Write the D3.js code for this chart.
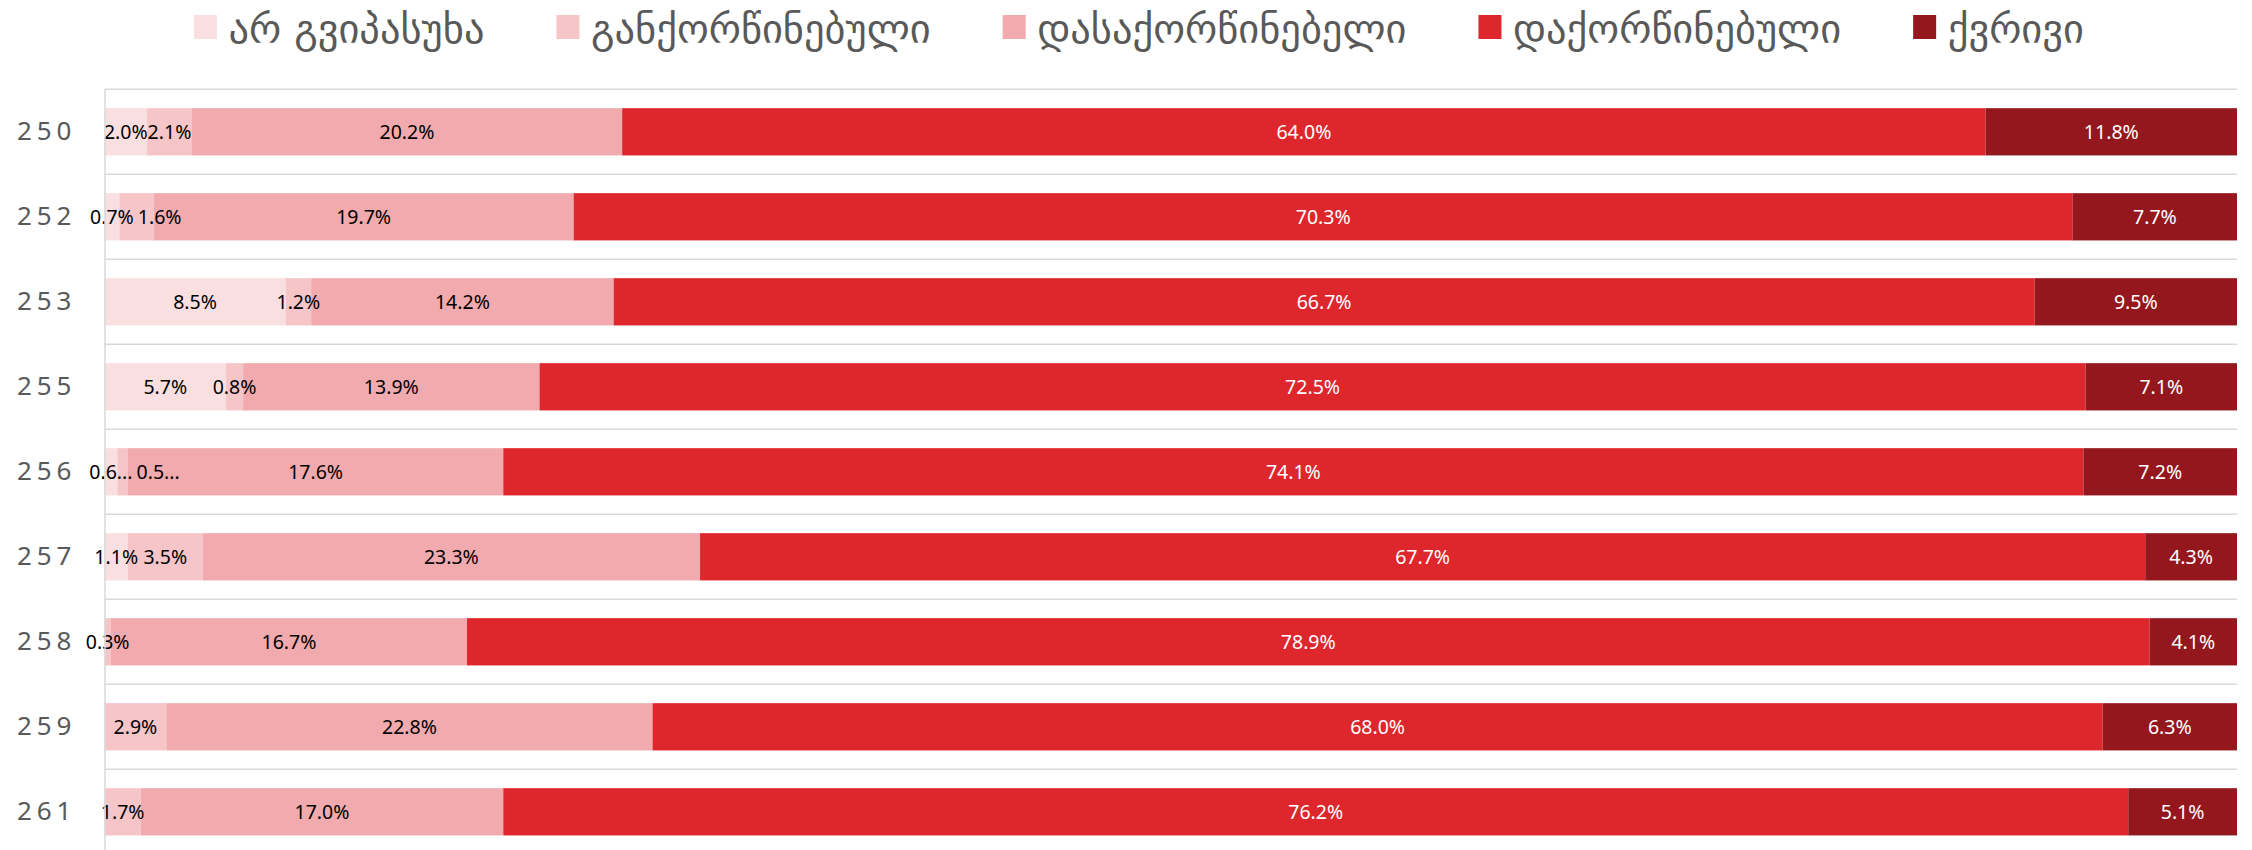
<!DOCTYPE html>
<html>
<head>
<meta charset="utf-8">
<script src="https://cdn.jsdelivr.net/npm/d3@7"></script>
<style>
  body { margin: 0; background: #fff; }
  svg { display: block; }
</style>
</head>
<body>
<div id="chart"></div>
<script>

// Categories (rows) and legend names
var categories = ["250", "252", "253", "255", "256", "257", "258", "259", "261"];
var seriesNames = ["არ გვიპასუხა", "განქორწინებული", "დასაქორწინებელი", "დაქორწინებული", "ქვრივი"];

// Percent values per series, same order as categories
var noAnswer  = [2.0, 0.7, 8.5, 5.7, 0.6, 1.1, 0, 0, 0];
var divorced  = [2.1, 1.6, 1.2, 0.8, 0.5, 3.5, 0.3, 2.9, 1.7];
var single    = [20.2, 19.7, 14.2, 13.9, 17.6, 23.3, 16.7, 22.8, 17.0];
var married   = [64.0, 70.3, 66.7, 72.5, 74.1, 67.7, 78.9, 68.0, 76.2];
var widowed   = [11.8, 7.7, 9.5, 7.1, 7.2, 4.3, 4.1, 6.3, 5.1];

// Labels that the original chart cut short
var clippedLabels = [
  {cat: "256", series: 0, text: "0.6..."},
  {cat: "256", series: 1, text: "0.5..."}
];

var seriesValues = [noAnswer, divorced, single, married, widowed];
var seriesColors = ["#fadfe1", "#f5c5c8", "#f1aaad", "#de262d", "#95171e"];

var width = 2252,
    height = 850;

var plotLeft = 104.5,
    plotRight = 2237,
    plotTop = 89.3,
    rowStep = 85;

var svg = d3.select("#chart")
            .append("svg")
              .attr("width", width)
              .attr("height", height);

// Build rows for the stack
var rows = categories.map(function(c, i) {
  return {cat: c, values: seriesValues.map(function(s) { return s[i]; })};
});

// 100% stacked, every row normalised to its total
var stack = d3.stack()
              .keys(d3.range(seriesNames.length))
              .value(function(row, k) { return row.values[k]; })
              .offset(d3.stackOffsetExpand);
var layers = stack(rows);

var x = d3.scaleLinear()
          .domain([0, 1])
          .range([plotLeft, plotRight]);

var y = d3.scaleBand()
          .domain(categories)
          .range([plotTop, plotTop + rowStep * categories.length])
          .padding(0);

var barH = y.bandwidth() * 0.556;

// Row separator lines
svg.append("g")
  .selectAll("line")
  .data(categories.concat(["end"]))
  .enter()
  .append("line")
    .attr("x1", plotLeft)
    .attr("x2", plotRight)
    .attr("y1", function(d, i) { return plotTop + i * y.step(); })
    .attr("y2", function(d, i) { return plotTop + i * y.step(); })
    .attr("stroke", "#d9d9d9")
    .attr("stroke-width", 1.5);

// Flatten layers into segments
var segments = [];
layers.forEach(function(layer) {
  layer.forEach(function(p) {
    segments.push({series: layer.key, cat: p.data.cat, value: p.data.values[layer.key], x0: p[0], x1: p[1]});
  });
});

svg.append("g")
  .selectAll("rect")
  .data(segments.filter(function(d) { return d.value > 0; }))
  .enter()
  .append("rect")
    .attr("x", function(d) { return x(d.x0); })
    .attr("y", function(d) { return y(d.cat) + (y.bandwidth() - barH) / 2; })
    .attr("width", function(d) { return x(d.x1) - x(d.x0); })
    .attr("height", barH)
    .attr("fill", function(d) { return seriesColors[d.series]; });

// Data labels
function labelText(d) {
  var c = clippedLabels.filter(function(l) { return l.cat == d.cat && l.series == d.series; });
  if (c.length) return c[0].text;
  return d.value.toFixed(1) + "%";
}

var labels = svg.append("g")
  .selectAll("text")
  .data(segments.filter(function(d) { return d.value > 0; }))
  .enter()
  .append("text")
    .attr("x", function(d) { return (x(d.x0) + x(d.x1)) / 2; })
    .attr("y", function(d) { return y(d.cat) + y.bandwidth() / 2; })
    .attr("dy", "0.36em")
    .attr("text-anchor", "middle")
    .style("font-family", "'Noto Sans', sans-serif")
    .style("font-size", "19.5px")
    .style("fill", function(d) { return d.series >= 3 ? "#ffffff" : "#000000"; })
    .text(labelText);

// Push small labels right when they run into the one before
labels.each(function(d) {
  d.w = this.getComputedTextLength();
  d.cx = (x(d.x0) + x(d.x1)) / 2;
});
categories.forEach(function(c) {
  var prevRight = -Infinity;
  labels.filter(function(d) { return d.cat == c; })
    .each(function(d) {
      if (d.cx - d.w / 2 < prevRight - 3) {
        d.cx = prevRight + 4 + d.w / 2;
      }
      prevRight = d.cx + d.w / 2;
      d3.select(this).attr("x", d.cx);
    });
});

// Category axis
var yAxis = svg.append("g")
  .attr("transform", "translate(" + plotLeft + ",0)")
  .call(d3.axisLeft(y).tickSize(0).tickPadding(28));

yAxis.select(".domain")
  .attr("stroke", "#d9d9d9")
  .attr("stroke-width", 1.5);

yAxis.selectAll("text")
  .style("font-family", "'Noto Sans', sans-serif")
  .style("font-size", "26px")
  .style("letter-spacing", "5px")
  .style("fill", "#595959");

// Legend, laid out in a row
var legendSquare = 23,
    legendTextGap = 11.5,
    legendItemGap = 72,
    legendStart = 194,
    legendEnd = 2084;

var legend = svg.append("g")
                .attr("class", "legend");

var items = legend.selectAll("g")
  .data(seriesNames)
  .enter()
  .append("g");

items.append("rect")
  .attr("y", 15)
  .attr("width", legendSquare)
  .attr("height", 24)
  .attr("fill", function(d, i) { return seriesColors[i]; });

var legendText = items.append("text")
  .attr("x", legendSquare + legendTextGap)
  .attr("y", 43)
  .style("font-family", "'DejaVu Sans', sans-serif")
  .style("font-size", "40px")
  .style("fill", "#595959")
  .text(function(d) { return d; });

var natural = [];
legendText.each(function() { natural.push(this.getComputedTextLength()); });
var fixed = seriesNames.length * (legendSquare + legendTextGap) + (seriesNames.length - 1) * legendItemGap;
var k = (legendEnd - legendStart - fixed) / d3.sum(natural);

var cursor = legendStart;
items.each(function(d, i) {
  var len = natural[i] * k;
  d3.select(this).attr("transform", "translate(" + cursor + ",0)");
  d3.select(this).select("text")
    .attr("textLength", len)
    .attr("lengthAdjust", "spacingAndGlyphs");
  cursor += legendSquare + legendTextGap + len + legendItemGap;
});

</script>
</body>
</html>
